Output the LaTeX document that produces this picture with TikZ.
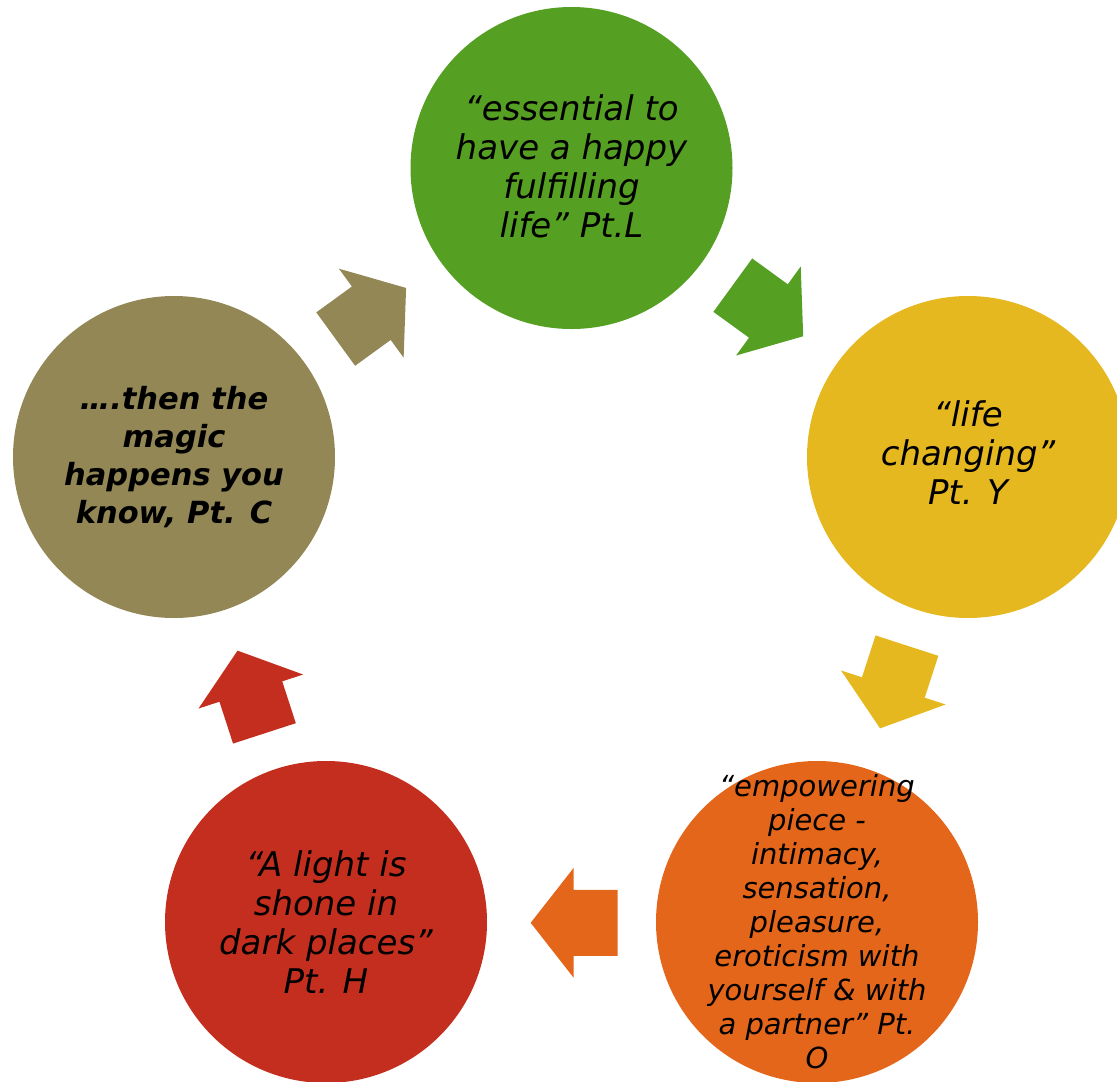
\documentclass[tikz,border=0pt]{standalone}
\usepackage{fontspec}
\setmainfont{DejaVu Sans}
\definecolor{cgreen}{HTML}{55A023}
\definecolor{cyellow}{HTML}{E6B820}
\definecolor{corange}{HTML}{E4661A}
\definecolor{cred}{HTML}{C42E1E}
\definecolor{colive}{HTML}{928755}
\tikzset{
  bubble/.style={circle, minimum size=322pt, inner sep=0pt},
  quote/.style={align=center, inner sep=0pt, text=black,
    font=\itshape\fontsize{34}{39}\selectfont},
}
\newcommand\cyclearrow[4]{%
  \fill[#4, shift={(#1,#2)}, rotate=#3]
    (-43.5,-33) -- (0.5,-33) -- (0.5,-55) -- (43.5,0) -- (0.5,55) -- (0.5,33) -- (-43.5,33) -- cycle;}
\begin{document}
\begin{tikzpicture}[x=1pt,y=-1pt]
\useasboundingbox (0,0) rectangle (1117,1082);
\clip (0,0) rectangle (1117,1082);
\node[bubble, fill=cgreen] (g) at (571.5,168) {};
\node[bubble, fill=cyellow] (y) at (968,457) {};
\node[bubble, fill=corange] (o) at (817,922) {};
\node[bubble, fill=cred] (r) at (326,922) {};
\node[bubble, fill=colive] (c) at (174,457) {};
\node[quote] (gt) at (571.5,166) {“essential to\\have a happy\\fulfilling\\life” Pt.L};
\node[quote] (yt) at (968,453) {“life\\changing”\\Pt. Y};
\node[quote, font=\itshape\fontsize{29}{34}\selectfont] (ot) at (817,922) {“empowering\\piece -\\intimacy,\\sensation,\\pleasure,\\eroticism with\\yourself \& with\\a partner” Pt.\\O};
\node[quote] (rt) at (326,922) {“A light is\\shone in\\dark places”\\Pt. H};
\node[quote, font=\bfseries\itshape\fontsize{30.5}{38}\selectfont] (ct) at (174,457) {….then the\\magic\\happens you\\know, Pt. C};
\cyclearrow{768}{310.7}{-36}{cgreen}
\cyclearrow{893.5}{687}{-108}{cyellow}
\cyclearrow{574.2}{922.8}{180}{corange}
\cyclearrow{251}{692}{108}{cred}
\cyclearrow{370.9}{313.5}{36}{colive}
\end{tikzpicture}
\end{document}
